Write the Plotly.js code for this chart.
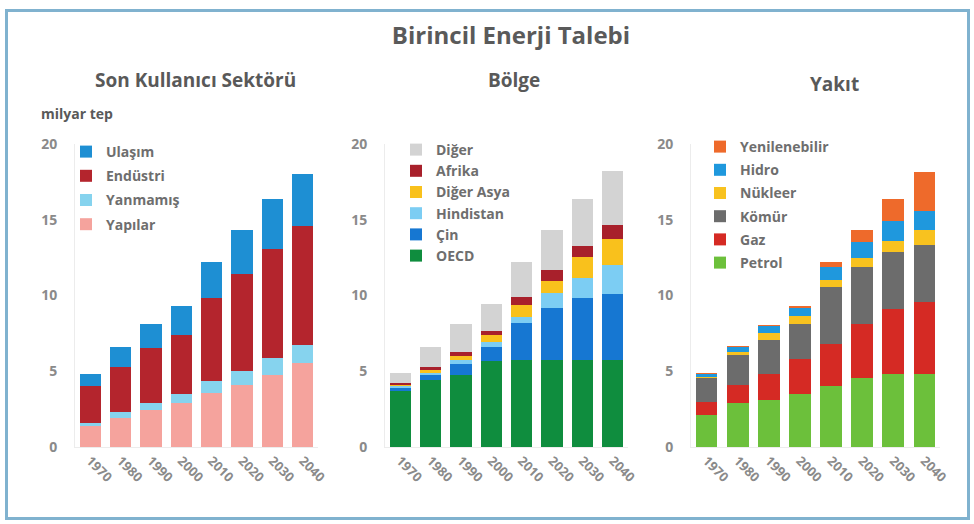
<!DOCTYPE html>
<html><head><meta charset="utf-8">
<script src="https://cdn.plot.ly/plotly-3.0.1.min.js"></script>
<style>
body{margin:0;background:#fff;}
#chart{position:absolute;left:0;top:0;width:974px;height:524px;}
#frame{position:absolute;left:5px;top:9px;width:965px;height:511px;border:3px solid #80b2cf;box-sizing:border-box;pointer-events:none;}
</style>
</head><body>
<div id="chart"></div><div id="frame"></div>
<script>
// ---- data ----
const years = ['1970','1980','1990','2000','2010','2020','2030','2040'];

// Panel 1: Son Kullanıcı Sektörü (bottom to top)
const yapilar   = [1.40, 1.90, 2.45, 2.90, 3.55, 4.10, 4.75, 5.55];
const yanmamis  = [0.20, 0.40, 0.45, 0.60, 0.80, 0.90, 1.10, 1.20];
const endustri  = [2.40, 3.00, 3.65, 3.90, 5.50, 6.40, 7.20, 7.85];
const ulasim    = [0.85, 1.30, 1.55, 1.90, 2.35, 2.95, 3.30, 3.40];

// Panel 2: Bölge
const oecd      = [3.70, 4.40, 4.74, 5.67, 5.73, 5.73, 5.73, 5.73];
const cin       = [0.20, 0.35, 0.77, 0.95, 2.43, 3.46, 4.08, 4.37];
const hindistan = [0.10, 0.15, 0.22, 0.29, 0.40, 0.95, 1.37, 1.92];
const digerAsya = [0.10, 0.20, 0.29, 0.49, 0.82, 0.84, 1.39, 1.72];
const afrika    = [0.10, 0.15, 0.26, 0.29, 0.55, 0.71, 0.73, 0.93];
const diger     = [0.70, 1.35, 1.87, 1.74, 2.27, 2.65, 3.09, 3.57];

// Panel 3: Yakıt
const petrol    = [2.10, 2.90, 3.10, 3.50, 4.05, 4.55, 4.85, 4.85];
const gaz       = [0.90, 1.20, 1.75, 2.30, 2.75, 3.60, 4.25, 4.70];
const komur     = [1.55, 1.95, 2.20, 2.30, 3.75, 3.70, 3.80, 3.80];
const nukleer   = [0.05, 0.20, 0.45, 0.55, 0.45, 0.60, 0.70, 1.00];
const hidro     = [0.25, 0.35, 0.50, 0.55, 0.85, 1.10, 1.30, 1.20];
const yenilenebilir = [0.05, 0.05, 0.05, 0.10, 0.35, 0.75, 1.50, 2.60];

// ---- traces ----
const F = 'Open Sans, Lato, DejaVu Sans, sans-serif';
let rank = 1000;
function bar(name, y, color, ax, leg) {
  rank -= 1;
  return {type:'bar', name:name, x:years, y:y, xaxis:'x'+ax, yaxis:'y'+ax,
    marker:{color:color, line:{width:0}}, legend:leg, legendgroup:name+ax,
    legendrank:rank, hoverinfo:'name+y'};
}
const data = [
  bar('Yapılar', yapilar, '#f5a39d', '', 'legend'),
  bar('Yanmamış', yanmamis, '#86d3ee', '', 'legend'),
  bar('Endüstri', endustri, '#b4252d', '', 'legend'),
  bar('Ulaşım', ulasim, '#1e8fd3', '', 'legend'),

  bar('OECD', oecd, '#0f8d3e', '2', 'legend2'),
  bar('Çin', cin, '#1677d2', '2', 'legend2'),
  bar('Hindistan', hindistan, '#7ccdf3', '2', 'legend2'),
  bar('Diğer Asya', digerAsya, '#f9c11c', '2', 'legend2'),
  bar('Afrika', afrika, '#a8202b', '2', 'legend2'),
  bar('Diğer', diger, '#d3d3d3', '2', 'legend2'),

  bar('Petrol', petrol, '#6cc03b', '3', 'legend3'),
  bar('Gaz', gaz, '#d52a24', '3', 'legend3'),
  bar('Kömür', komur, '#6c6c6c', '3', 'legend3'),
  bar('Nükleer', nukleer, '#f8c21f', '3', 'legend3'),
  bar('Hidro', hidro, '#1f98dd', '3', 'legend3'),
  bar('Yenilenebilir', yenilenebilir, '#ee6a2b', '3', 'legend3')
];

const W = 974, H = 524;
const yDom = [(H-447)/H, (H-144)/H];
function xa(l, r) {
  return {domain:[l/W, r/W], type:'category', tickangle:45, showgrid:false, zeroline:false,
    showline:true, linecolor:'#ececec', linewidth:1, ticks:'', fixedrange:true,
    tickfont:{family:F, size:13, color:'#8a8a8a', weight:700}};
}
function ya(anchor) {
  return {domain:yDom, range:[0,20], dtick:5, anchor:anchor, showgrid:false, zeroline:false,
    showline:true, linecolor:'#ececec', linewidth:1, ticks:'', ticklabelstandoff:14,
    tickfont:{family:F, size:14, color:'#8a8a8a', weight:700}};
}
function leg(x, y, gap) {
  return {x:x/W, y:(H-y)/H, xanchor:'left', yanchor:'top', bgcolor:'rgba(0,0,0,0)',
    traceorder:'grouped', tracegroupgap:gap, itemwidth:30,
    font:{family:F, size:14, color:'#6e6e6e', weight:700}};
}
const ann = (text, x, y, size, opts) => Object.assign({text:text, x:x/W, y:(H-y)/H,
  xref:'paper', yref:'paper', showarrow:false, xanchor:'center', yanchor:'middle',
  font:{family:F, size:size, color:'#595959', weight:700}}, opts||{});

const layout = {
  width:W, height:H, margin:{l:0, r:0, t:0, b:0},
  paper_bgcolor:'#ffffff', plot_bgcolor:'rgba(0,0,0,0)',
  barmode:'stack', bargap:0.3, showlegend:true,
  title:{text:'Birincil Enerji Talebi', x:511/W, xanchor:'center', y:(H-36)/H, yanchor:'middle',
    font:{family:F, size:24, color:'#5a5a5a', weight:700}},
  xaxis: xa(75, 318),  yaxis: ya('x'),
  xaxis2: xa(385, 628), yaxis2: ya('x2'),
  xaxis3: xa(691, 940), yaxis3: ya('x3'),
  legend: leg(66, 136, 3),
  legend2: leg(396, 134, 0),
  legend3: leg(700, 131, 2),
  annotations: [
    ann('Son Kullanıcı Sektörü', 195, 80, 19),
    ann('Bölge', 514, 80, 19),
    ann('Yakıt', 834, 84, 19),
    ann('milyar tep', 39, 113, 14, {xanchor:'left'})
  ]
};
Plotly.newPlot('chart', data, layout, {displayModeBar:false, staticPlot:true});
</script>
</body></html>
